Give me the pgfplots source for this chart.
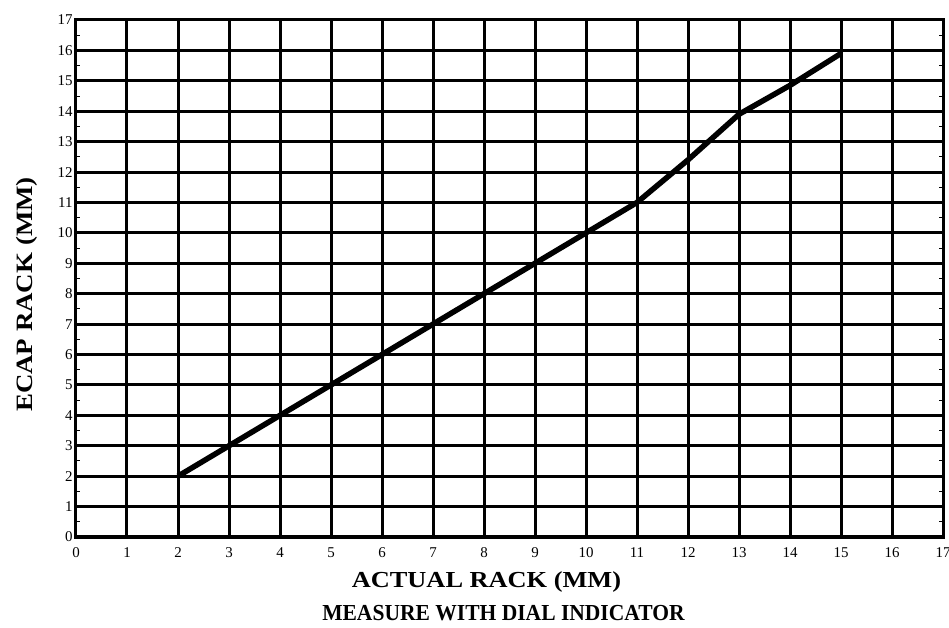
\documentclass[border=0pt]{standalone}
\usepackage{pgfplots}
\pgfplotsset{compat=1.18}
\usepackage{fontspec}
\setmainfont{Liberation Serif}
\begin{document}
\begin{tikzpicture}
\begin{axis}[
  name=ax,
  scale only axis,
  width=867bp, height=517bp,
  xmin=0, xmax=17, ymin=0, ymax=17,
  xtick={0,...,17}, ytick={0,...,17},
  minor y tick num=1,
  grid=major,
  major grid style={black, line width=3bp},
  axis line style={black, line width=3bp},
  tick style={black, line width=1bp},
  major tick length=0pt,
  minor tick length=4bp,
  ticklabel style={font=\fontsize{15}{16}\selectfont},
  /pgf/number format/assume math mode=true,
  xticklabel style={yshift=-7bp},
  yticklabel style={xshift=0bp},
  clip=false,
]
\addplot[black, line width=5.5bp, line join=round] coordinates {
 (2,2) (3,3) (4,4) (5,5) (6,6) (7,7) (8,8) (9,9) (10,10) (11,11)
 (12,12.4) (13,13.9) (14,14.85) (15,15.9)
};
\end{axis}
\node[font=\bfseries\fontsize{23}{24}\selectfont, anchor=base, xscale=1.15] at ([shift={(-23bp,-50bp)}]ax.south) {ACTUAL RACK (MM)};
\node[font=\bfseries\fontsize{23}{24}\selectfont, anchor=base, xscale=0.94] at ([shift={(-6bp,-83bp)}]ax.south) {MEASURE WITH DIAL INDICATOR};
\node[font=\bfseries\fontsize{23.5}{24}\selectfont, rotate=90, anchor=base, xscale=1.15] at ([shift={(-44bp,-16bp)}]ax.west) {ECAP RACK (MM)};
\pgfresetboundingbox
\path ([shift={(-76bp,-91bp)}]ax.south west) rectangle ([shift={(6bp,20bp)}]ax.north east);
\end{tikzpicture}
\end{document}
